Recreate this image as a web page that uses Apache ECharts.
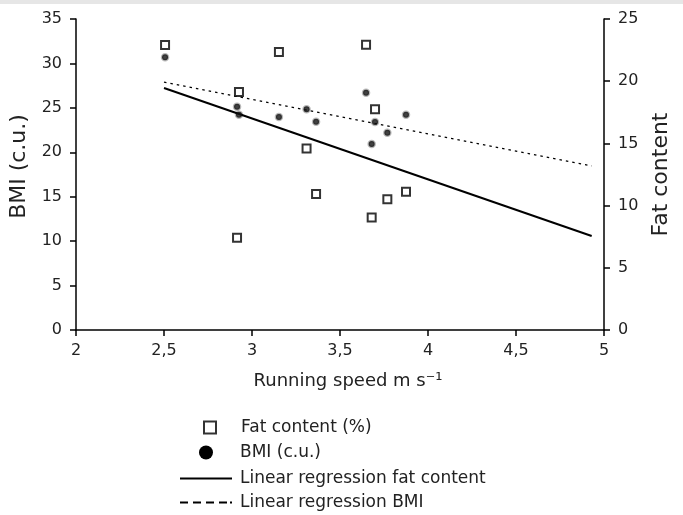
<!DOCTYPE html>
<html>
<head>
<meta charset="utf-8">
<script src="https://cdn.jsdelivr.net/npm/echarts@6/dist/echarts.min.js"></script>
<style>
  html, body { margin: 0; padding: 0; background: #fff; }
  #chart { width: 683px; height: 515px; }
</style>
</head>
<body>
<div id="chart"></div>
<script>
// running speed of each subject (m s-1)
var speed = [2.506, 2.915, 2.926, 3.153, 3.31, 3.364, 3.648, 3.68, 3.699, 3.769, 3.875];
// fat content (%), right axis
var fat = [22.9, 7.42, 19.13, 22.35, 14.6, 10.93, 22.93, 9.04, 17.74, 10.51, 11.12];
// BMI (c.u.), left axis
var bmi = [30.69, 25.13, 24.23, 23.97, 24.84, 23.44, 26.71, 20.93, 23.41, 22.2, 24.23];
// regression end points
var regX = [2.5, 4.93];
var regFat = [19.45, 7.56];
var regBmi = [27.9, 18.46];

var names = ['Fat content (%)', 'BMI (c.u.)', 'Linear regression fat content', 'Linear regression BMI'];

function pairs(xs, ys) {
  var out = [];
  for (var i = 0; i < xs.length; i++) {
    out.push([xs[i], ys[i]]);
  }
  return out;
}

var font = 'DejaVu Sans, Arial, sans-serif';
var ink = '#222';

// one legend per row so every icon can have its own size
function legendRow(name, top, left, w, h, pad, icon, style) {
  return {
    orient: 'vertical',
    left: left,
    top: top,
    padding: 0,
    itemWidth: w,
    itemHeight: h,
    selectedMode: false,
    textStyle: { fontSize: 17, color: ink, fontFamily: font, padding: [0, 0, 0, pad] },
    data: [{ name: name, icon: icon, itemStyle: style }]
  };
}

var solidIcon = 'path://M0,0h52v2h-52z';
var dashIcon = 'path://M0,0h8v2h-8z M13,0h8v2h-8z M26,0h8v2h-8z M39,0h8v2h-8z M50,0h2v2h-2z';

var myChart = echarts.init(document.getElementById('chart'));
myChart.setOption({
  backgroundColor: '#fff',
  animation: false,
  textStyle: { fontFamily: font },
  graphic: [{
    type: 'rect',
    shape: { x: 0, y: 0, width: 683, height: 4 },
    style: { fill: '#e6e6e6' }
  }],
  grid: {
    left: 76,
    right: 79,
    top: 19,
    bottom: 185
  },
  legend: [
    legendRow(names[0], 419, 203, 12, 12, 20, 'rect', { color: '#fff', borderColor: '#000', borderWidth: 2 }),
    legendRow(names[1], 444, 199, 14, 14, 22, 'circle', { color: '#000', borderColor: '#000', borderWidth: 0, opacity: 1 }),
    legendRow(names[2], 470, 180, 52, 2, 3, solidIcon, { color: '#000', borderWidth: 0 }),
    legendRow(names[3], 494, 180, 52, 2, 3, dashIcon, { color: '#000', borderWidth: 0 })
  ],
  xAxis: {
    type: 'value',
    min: 2,
    max: 5,
    interval: 0.5,
    name: 'Running speed m s\u207B\u00B9',
    nameLocation: 'middle',
    nameGap: 42,
    nameTextStyle: { fontSize: 18, color: ink, padding: [0, 0, 0, 16] },
    axisLine: { lineStyle: { color: '#000', width: 1.5 } },
    axisTick: { show: true, length: 6, lineStyle: { color: '#000', width: 1.5 } },
    axisLabel: {
      margin: 13,
      fontSize: 16,
      color: ink,
      formatter: function (v) { return String(v).replace('.', ','); }
    },
    splitLine: { show: false }
  },
  yAxis: [{
    type: 'value',
    min: 0,
    max: 35,
    interval: 5,
    name: 'BMI (c.u.)',
    nameLocation: 'middle',
    nameGap: 40,
    nameTextStyle: { fontSize: 22, color: ink, padding: [0, 0, 0, 16] },
    axisLine: { show: true, lineStyle: { color: '#000', width: 1.5 } },
    axisTick: { show: true, length: 6, lineStyle: { color: '#000', width: 1.5 } },
    axisLabel: { margin: 14, fontSize: 16, color: ink },
    splitLine: { show: false }
  }, {
    type: 'value',
    position: 'right',
    min: 0,
    max: 25,
    interval: 5,
    name: 'Fat content',
    nameLocation: 'middle',
    nameGap: 46,
    nameRotate: 90,
    nameTextStyle: { fontSize: 22, color: ink },
    axisLine: { show: true, lineStyle: { color: '#000', width: 1.5 } },
    axisTick: { show: true, length: 6, lineStyle: { color: '#000', width: 1.5 } },
    axisLabel: { margin: 14, fontSize: 16, color: ink },
    splitLine: { show: false }
  }],
  series: [{
    name: names[0],
    type: 'scatter',
    yAxisIndex: 1,
    symbol: 'rect',
    symbolSize: 8,
    itemStyle: { color: '#fff', borderColor: '#000', borderWidth: 2 },
    data: pairs(speed, fat),
    z: 4
  }, {
    name: names[1],
    type: 'scatter',
    yAxisIndex: 0,
    symbol: 'circle',
    symbolSize: 6,
    itemStyle: { color: '#111', borderColor: 'rgba(0,0,0,0.35)', borderWidth: 2.5 },
    data: pairs(speed, bmi),
    z: 4
  }, {
    name: names[2],
    type: 'line',
    yAxisIndex: 1,
    showSymbol: false,
    symbol: 'none',
    lineStyle: { color: '#000', width: 2 },
    itemStyle: { color: '#000' },
    data: pairs(regX, regFat),
    z: 3
  }, {
    name: names[3],
    type: 'line',
    yAxisIndex: 0,
    showSymbol: false,
    symbol: 'none',
    lineStyle: { color: '#000', width: 1.3, type: [2.5, 4] },
    itemStyle: { color: '#000' },
    data: pairs(regX, regBmi),
    z: 3
  }]
});
</script>
</body>
</html>
